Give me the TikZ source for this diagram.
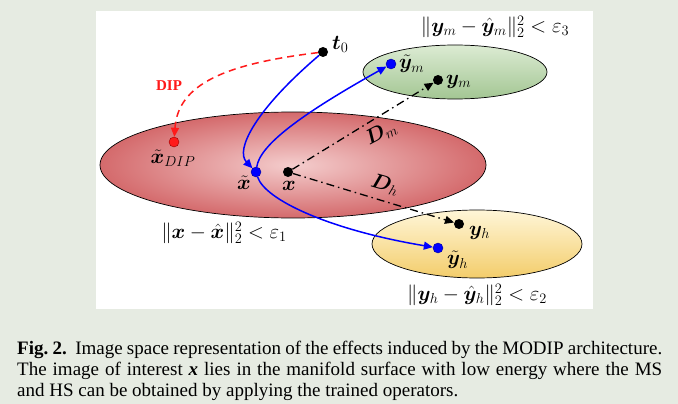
\documentclass[tikz,border=0pt]{standalone}
\usepackage{amsmath,bm}
\usepackage{fontspec}
\setmainfont{Liberation Serif}
\usetikzlibrary{arrows.meta}
\definecolor{bgc}{HTML}{E6EBE2}
\definecolor{redin}{HTML}{F4CDCD}
\definecolor{redout}{HTML}{D46A6C}
\definecolor{grtop}{HTML}{DCEBD3}
\definecolor{grbot}{HTML}{A3C693}
\definecolor{yetop}{HTML}{FFF6D8}
\definecolor{yebot}{HTML}{F3CD6B}
\definecolor{dipred}{HTML}{FF1A1A}
\tikzset{
  dotb/.style={circle,fill=black,inner sep=0pt,minimum size=10pt},
  dotblue/.style={circle,fill=blue,draw=blue!60!black,line width=0.4pt,inner sep=0pt,minimum size=10pt},
  dotred/.style={circle,fill=dipred,draw=red!60!black,line width=0.4pt,inner sep=0pt,minimum size=10pt},
  lbl/.style={inner sep=0pt,font=\fontsize{20.5}{24}\selectfont},
  normlbl/.style={inner sep=0pt,font=\fontsize{21}{25}\selectfont},
  bluearr/.style={blue,line width=1.5pt,-{Triangle[length=9pt,width=8pt]}},
  reddash/.style={dipred,line width=1.5pt,dash pattern=on 7pt off 5pt,-{Triangle[length=9pt,width=8pt]}},
  dashdotarr/.style={black,line width=1.3pt,dash pattern=on 8pt off 4pt on 1.5pt off 4pt,-{Triangle[length=9pt,width=8pt]}},
  capline/.style={anchor=west,inner sep=0pt,font=\fontsize{19}{23}\selectfont}
}
\begin{document}
\frenchspacing
\begin{tikzpicture}[x=1pt,y=-1pt]
\useasboundingbox (0,0) rectangle (678,404);
\fill[bgc] (0,0) rectangle (678,404);
\fill[white] (96,11) rectangle (593,309);
% ellipses
\shade[inner color=redin,outer color=redout] (293,165) ellipse [x radius=193,y radius=53];
\draw[line width=0.7pt] (293,165) ellipse [x radius=193,y radius=53];
\shade[top color=grtop,bottom color=grbot] (455,72) ellipse [x radius=92,y radius=27];
\draw[line width=0.7pt] (455,72) ellipse [x radius=92,y radius=27];
\shade[top color=yetop,bottom color=yebot] (477,244) ellipse [x radius=105,y radius=34];
\draw[line width=0.7pt] (477,244) ellipse [x radius=105,y radius=34];
% points
\node[dotb] (t0) at (323,52) {};
\node[dotred] (xdip) at (174,142) {};
\node[dotblue] (xt) at (256,172) {};
\node[dotb] (x) at (288,172) {};
\node[dotb] (ym) at (438,80) {};
\node[dotblue] (ymt) at (391,64) {};
\node[dotb] (yh) at (459,224) {};
\node[dotblue] (yht) at (438,248) {};
% labels
\node[lbl,anchor=west] (t0l) at (332,44) {$\bm{t}_0$};
\node[inner sep=0pt,text=dipred,font=\fontsize{15}{18}\selectfont\bfseries] (dipl) at (169,86) {DIP};
\node[lbl] (xdipl) at (173,158) {$\bm{\tilde{x}}_{DIP}$};
\node[lbl] (xtl) at (244,183) {$\bm{\tilde{x}}$};
\node[lbl] (xl) at (289,186) {$\bm{x}$};
\node[lbl,anchor=west] (ymtl) at (399,64) {$\bm{\tilde{y}}_m$};
\node[lbl,anchor=west] (yml) at (446,82) {$\bm{y}_m$};
\node[lbl,anchor=west] (yhl) at (469,233) {$\bm{y}_h$};
\node[lbl,anchor=west] (yhtl) at (447,260) {$\bm{\tilde{y}}_h$};
\node[lbl,rotate=28] (dml) at (381,133) {$\bm{D}_m$};
\node[lbl,rotate=-16] (dhl) at (385,185) {$\bm{D}_h$};
\node[normlbl] (n1) at (224,233) {$\|\bm{x}-\hat{\bm{x}}\|_2^2<\varepsilon_1$};
\node[normlbl] (n3) at (495,27) {$\|\bm{y}_m-\hat{\bm{y}}_m\|_2^2<\varepsilon_3$};
\node[normlbl] (n2) at (477,295) {$\|\bm{y}_h-\hat{\bm{y}}_h\|_2^2<\varepsilon_2$};
% connectors
\draw[reddash] (t0) .. controls (225,64) and (178,84) .. (xdip);
\draw[bluearr] (t0) .. controls (255,110) and (235,150) .. (xt);
\draw[bluearr] (xt) .. controls (260,145) and (300,115) .. (ymt);
\draw[bluearr] (xt) .. controls (265,200) and (330,230) .. (yht);
\draw[dashdotarr] (x) -- (ym);
\draw[dashdotarr] (x) -- (yh);
% caption
\node[capline] (c1) at (17,350) {\makebox[645pt][s]{\textbf{Fig. 2.}\ \ Image space representation of the effects induced by the MODIP architecture.}};
\node[capline] (c2) at (17,371) {\makebox[645pt][s]{The image of interest \textbf{\textit{x}} lies in the manifold surface with low energy where the MS}};
\node[capline] (c3) at (17,392) {and HS can be obtained by applying the trained operators.};
\end{tikzpicture}
\end{document}
